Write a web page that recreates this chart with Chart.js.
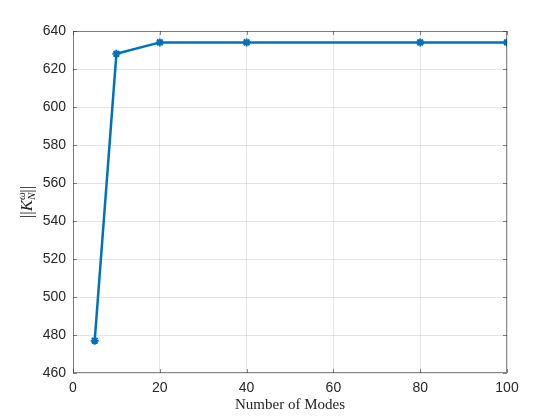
<!DOCTYPE html>
<html><head><meta charset="utf-8">
<script src="https://cdn.jsdelivr.net/npm/chart.js@4/dist/chart.umd.min.js"></script>
<style>html,body{margin:0;padding:0;background:#fff}#w{width:560px;height:420px}</style>
</head><body><div id="w"><canvas id="c" width="560" height="420"></canvas></div>
<script>
const modes = [5, 10, 20, 40, 80, 100];
const normValues = [477, 628, 634, 634, 634, 634];
const xTicks = [0, 20, 40, 60, 80, 100];
const yTicks = [460, 480, 500, 520, 540, 560, 580, 600, 620, 640];
const xTitle = 'Number of Modes';

const L = 73, R = 507, T = 31, B = 373;

const framePlugin = {
  id: 'frame',
  afterDraw(chart) {
    const ctx = chart.ctx, a = chart.chartArea;
    ctx.save();
    ctx.strokeStyle = '#262626';
    ctx.globalAlpha = 0.55;
    ctx.lineWidth = 1;
    ctx.strokeRect(a.left + 0.5, a.top + 0.5, a.right - a.left - 1, a.bottom - a.top - 1);
    const xs = chart.scales.x, ys = chart.scales.y;
    ctx.beginPath();
    xTicks.forEach(v => {
      const px = Math.round(xs.getPixelForValue(v)) + 0.5;
      ctx.moveTo(px, a.bottom); ctx.lineTo(px, a.bottom - 4);
      ctx.moveTo(px, a.top); ctx.lineTo(px, a.top + 4);
    });
    yTicks.forEach(v => {
      const py = Math.round(ys.getPixelForValue(v)) + 0.5;
      ctx.moveTo(a.left, py); ctx.lineTo(a.left + 4, py);
      ctx.moveTo(a.right, py); ctx.lineTo(a.right - 4, py);
    });
    ctx.stroke();
    ctx.restore();
    ctx.save();
    ctx.fillStyle = '#262626';
    ctx.translate(27, (a.top + a.bottom) / 2);
    ctx.rotate(-Math.PI / 2);
    ctx.textBaseline = 'alphabetic';
    const parts = [
      {t: '||', f: '17px "Liberation Serif"', dy: 0},
      {t: 'K', f: 'italic 17px "Liberation Serif"', dy: 0},
      {t: 'ω', f: 'italic 11px "Liberation Serif"', dy: -7, stack: true},
      {t: 'N', f: 'italic 11px "Liberation Serif"', dy: 3},
      {t: '||', f: '17px "Liberation Serif"', dy: 0}
    ];
    let total = 0;
    parts.forEach(p => { ctx.font = p.f; p.w = ctx.measureText(p.t).width; if (!p.stack) total += p.w; });
    let x = -total / 2;
    parts.forEach(p => {
      ctx.font = p.f;
      ctx.fillText(p.t, x, 5 + p.dy);
      if (!p.stack) x += p.w;
    });
    ctx.restore();
  }
};

new Chart(document.getElementById('c'), {
  type: 'line',
  data: {
    datasets: [{
      data: modes.map((m, i) => ({x: m, y: normValues[i]})),
      borderColor: '#0072BD',
      backgroundColor: '#0072BD',
      borderWidth: 2.5,
      pointStyle: 'star',
      pointRadius: 4,
      pointBorderWidth: 2,
      pointBorderColor: '#0072BD',
      tension: 0,
      fill: false
    }]
  },
  options: {
    responsive: false,
    animation: false,
    layout: {padding: {top: T, right: 560 - R, left: 0, bottom: 0}},
    plugins: {legend: {display: false}, tooltip: {enabled: false}},
    scales: {
      x: {
        type: 'linear', min: 0, max: 100,
        afterBuildTicks: s => { s.ticks = xTicks.map(v => ({value: v})); },
        afterFit: s => { s.height = 420 - B; },
        grid: {color: 'rgba(0,0,0,0.1)', drawTicks: false},
        border: {display: false},
        ticks: {color: '#262626', font: {family: '"Liberation Sans", Arial', size: 14}, padding: 7, maxRotation: 0},
        title: {display: true, text: xTitle, color: '#262626', font: {family: '"Liberation Serif"', size: 15}, padding: {top: 0, bottom: 6}}
      },
      y: {
        type: 'linear', min: 460, max: 640,
        afterBuildTicks: s => { s.ticks = yTicks.map(v => ({value: v})); },
        afterFit: s => { s.width = L; },
        grid: {color: 'rgba(0,0,0,0.1)', drawTicks: false},
        border: {display: false},
        ticks: {color: '#262626', font: {family: '"Liberation Sans", Arial', size: 14}, padding: 7}
      }
    }
  },
  plugins: [framePlugin]
});
</script>
</body></html>
